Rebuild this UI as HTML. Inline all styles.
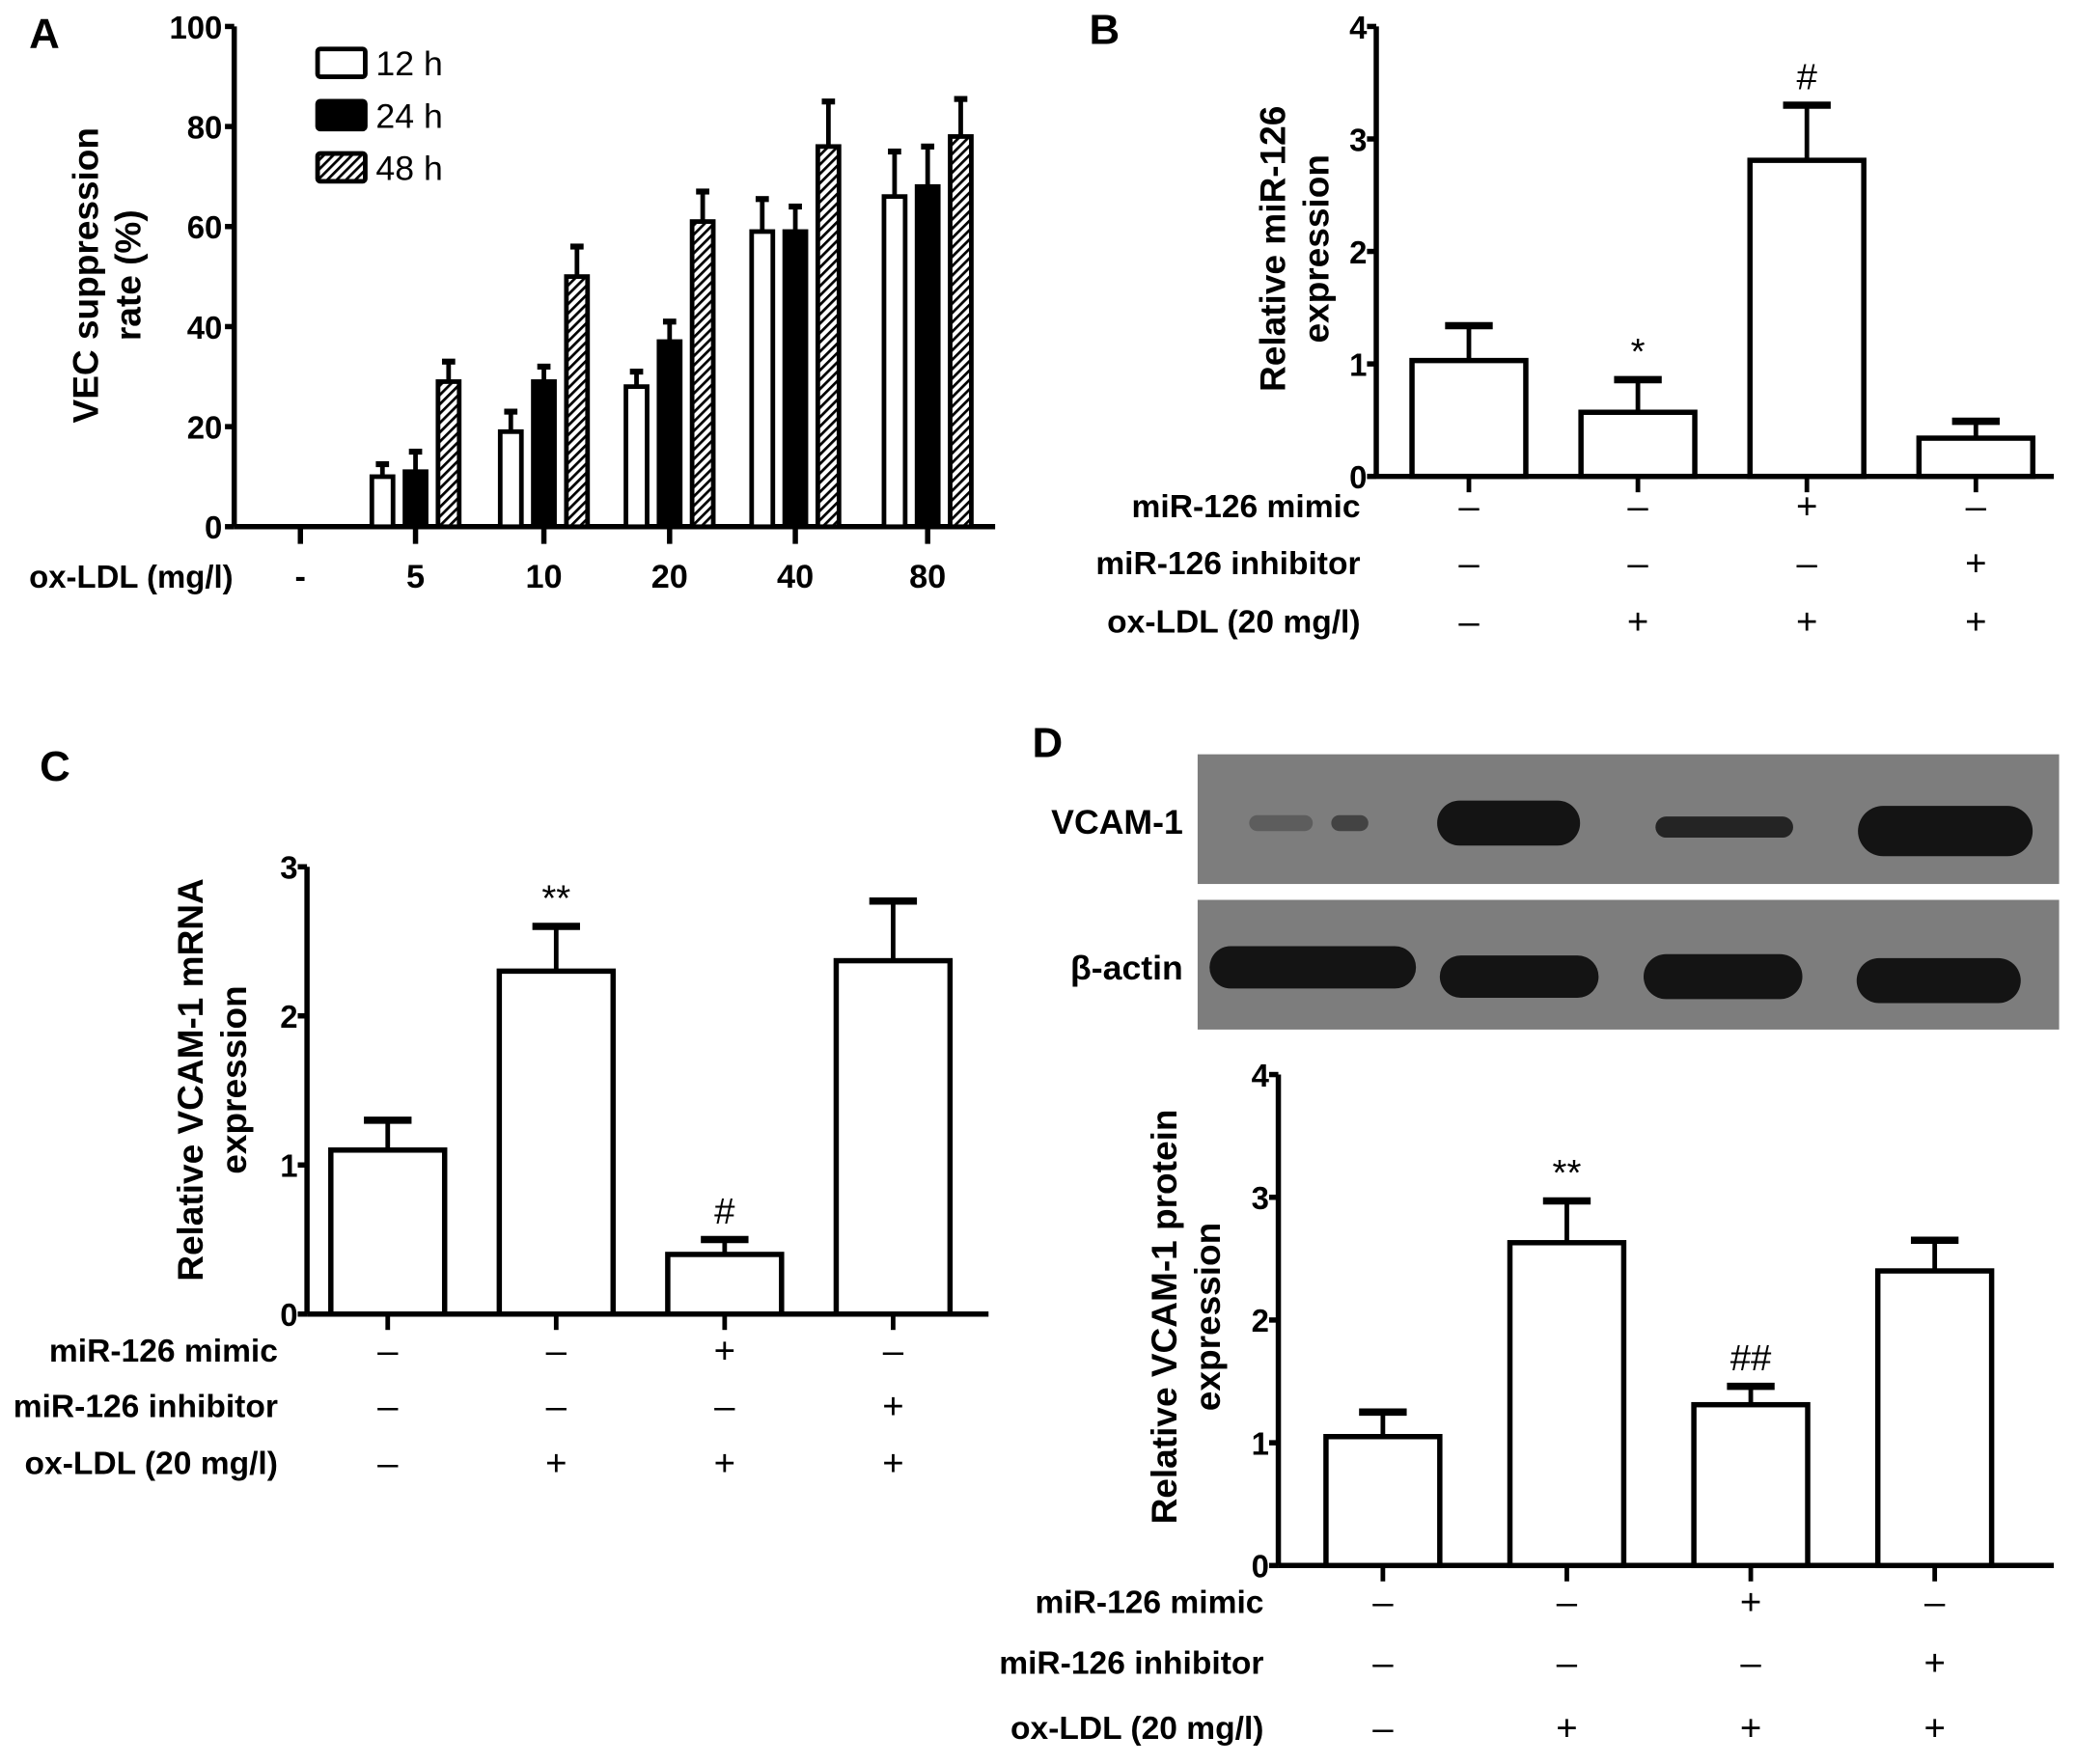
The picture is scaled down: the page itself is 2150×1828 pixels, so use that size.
<!DOCTYPE html>
<html><head><meta charset="utf-8"><style>
html,body{margin:0;padding:0;background:#fff;}
svg{display:block;}
text{font-family:"Liberation Sans",Arial,sans-serif;fill:#000;}
</style></head><body>
<svg id="fig" width="2150" height="1828" viewBox="0 0 1568 1333" preserveAspectRatio="none" xmlns="http://www.w3.org/2000/svg">
<defs>
<pattern id="hatch" patternUnits="userSpaceOnUse" width="5" height="5" patternTransform="rotate(45)">
<rect width="5" height="5" fill="#fff"/><rect width="2" height="5" fill="#000"/>
</pattern>
</defs>
</svg>
<script>
// Panel A data
const aCategories = ["-", "5", "10", "20", "40", "80"];
const aSeries = ["12 h", "24 h", "48 h"];
const a12 = [0, 10, 19, 28, 59, 66];
const a24 = [0, 11, 29, 37, 59, 68];
const a48 = [0, 29, 50, 61, 76, 78];
const a12err = [0, 2.5, 4, 3, 6.5, 9];
const a24err = [0, 4, 3, 4, 5, 8];
const a48err = [0, 4, 6, 6, 9, 7.5];
const aTicks = [0, 20, 40, 60, 80, 100];
// Panel B data
const bValues = [1.03, 0.57, 2.81, 0.34];
const bErr = [0.31, 0.29, 0.49, 0.15];
const bTicks = [0, 1, 2, 3, 4];
const bMarks = ["", "*", "#", ""];
// Panel C data
const cValues = [1.1, 2.3, 0.4, 2.37];
const cErr = [0.2, 0.3, 0.1, 0.4];
const cTicks = [0, 1, 2, 3];
const cMarks = ["", "**", "#", ""];
// Panel D data
const dValues = [1.05, 2.63, 1.31, 2.4];
const dErr = [0.2, 0.34, 0.15, 0.25];
const dTicks = [0, 1, 2, 3, 4];
const dMarks = ["", "**", "##", ""];
// Treatment rows
const mimicSigns = ["–", "–", "+", "–"];
const inhibSigns = ["–", "–", "–", "+"];
const oxSigns = ["–", "+", "+", "+"];

const svg = document.getElementById('fig');
const NS = 'http://www.w3.org/2000/svg';
function mk(tag, attrs, parent){
  const e = document.createElementNS(NS, tag);
  for (const k in attrs) e.setAttribute(k, attrs[k]);
  (parent || svg).appendChild(e);
  return e;
}
function txt(s, x, y, size, anchor, weight, parent){
  const t = mk('text', {x:x, y:y, 'font-size':size, 'text-anchor':anchor||'start', 'font-weight':weight||'bold'}, parent);
  t.textContent = s;
  return t;
}

// ---------- Panel A ----------
(function(){
  const g = mk('g', {});
  
  
  const x0 = 177, x1 = 752, yTop = 20, yBot = 398, vmax = 100;
  const y = v => yBot - (yBot - yTop) * v / vmax;
  const centers = [227, 314, 411, 506, 601, 701];
  const xOf = i => centers[i];
  const l = txt('A', 22, 36, 32, 'start', 'bold', g);
  
  
  const ya = mk('line', {x1:x0, y1:yTop, x2:x0, y2:yBot, stroke:'#000', 'stroke-width':4}, g);
  
  
  const xa = mk('line', {x1:x0, y1:yBot, x2:x1, y2:yBot, stroke:'#000', 'stroke-width':4}, g);
  
  
  aTicks.forEach(v => {
    mk('line', {x1:x0-7, y1:y(v), x2:x0, y2:y(v), stroke:'#000', 'stroke-width':4}, g);
    const t = txt(String(v), x0-9, y(v)+9, 24, 'end', 'bold', g);
    
    
  });
  aCategories.forEach((c, i) => {
    mk('line', {x1:xOf(i), y1:yBot, x2:xOf(i), y2:yBot+13, stroke:'#000', 'stroke-width':4}, g);
    const t = txt(c, xOf(i), 444, 25, 'middle', 'bold', g);
    
    
  });
  const xl = txt('ox-LDL (mg/l)', 22, 444, 24, 'start', 'bold', g);
  
  
  const yt = mk('text', {transform:'translate(74,208) rotate(-90)', 'font-size':27, 'font-weight':'bold', 'text-anchor':'middle'}, g);
  
  
  const ts1 = mk('tspan', {x:0, y:0}, yt); ts1.textContent = 'VEC suppression';
  const ts2 = mk('tspan', {x:0, y:32}, yt); ts2.textContent = 'rate (%)';
  const series = [[a12, a12err, '#fff'], [a24, a24err, '#000'], [a48, a48err, 'url(#hatch)']];
  const bw = 16, step = 25;
  series.forEach((s, si) => {
    s[0].forEach((v, i) => {
      if (v <= 0) return;
      const cx = xOf(i) + (si - 1) * step;
      const top = y(v + s[1][i]);
      mk('line', {x1:cx, y1:y(v), x2:cx, y2:top, stroke:'#000', 'stroke-width':3.5}, g);
      mk('line', {x1:cx-5, y1:top, x2:cx+5, y2:top, stroke:'#000', 'stroke-width':4.5}, g);
      const r = mk('rect', {x:cx-bw/2, y:y(v), width:bw, height:yBot-y(v), fill:s[2], stroke:'#000', 'stroke-width':3.5}, g);
      
      
    });
  });
  const fills = ['#fff', '#000', 'url(#hatch)'];
  aSeries.forEach((s, i) => {
    const ly = 37 + i * 39.5;
    const lg = mk('g', {}, g);
    
    
    mk('rect', {x:240, y:ly, width:36, height:21, fill:fills[i], stroke:'#000', 'stroke-width':3.5, rx:2}, lg);
    txt(s, 284, ly+20, 26, 'start', 'normal', lg);
  });
})();

// ---------- Generic bar panel ----------
function barPanel(o){
  const g = mk('g', {});
  
  
  const vmax = o.ticks[o.ticks.length - 1];
  const y = v => o.yBot - (o.yBot - o.yTop) * v / vmax;
  const xOf = i => o.c0 + i * o.dx;
  const ya = mk('line', {x1:o.x0, y1:o.yTop, x2:o.x0, y2:o.yBot, stroke:'#000', 'stroke-width':4}, g);
  
  
  const xa = mk('line', {x1:o.x0, y1:o.yBot, x2:o.x1, y2:o.yBot, stroke:'#000', 'stroke-width':4}, g);
  
  
  o.ticks.forEach(v => {
    mk('line', {x1:o.x0-7, y1:y(v), x2:o.x0, y2:y(v), stroke:'#000', 'stroke-width':4}, g);
    const t = txt(String(v), o.x0-7, y(v)+9, 24, 'end', 'bold', g);
    
    
  });
  const bw = 86;
  o.values.forEach((v, i) => {
    const cx = xOf(i);
    mk('line', {x1:cx, y1:o.yBot, x2:cx, y2:o.yBot+12, stroke:'#000', 'stroke-width':3.5}, g);
    const top = y(v + o.err[i]);
    mk('line', {x1:cx, y1:y(v), x2:cx, y2:top, stroke:'#000', 'stroke-width':3.5}, g);
    mk('line', {x1:cx-18, y1:top, x2:cx+18, y2:top, stroke:'#000', 'stroke-width':5.5}, g);
    const r = mk('rect', {x:cx-bw/2, y:y(v), width:bw, height:o.yBot-y(v), fill:'#fff', stroke:'#000', 'stroke-width':4}, g);
    
    
    if (o.marks[i]) {
      const m = txt(o.marks[i], cx, top - 12, 28, 'middle', 'normal', g);
      
      
    }
  });
  const rows = [['miR-126 mimic', mimicSigns], ['miR-126 inhibitor', inhibSigns], ['ox-LDL (20 mg/l)', oxSigns]];
  rows.forEach((r, ri) => {
    const ry = o.rows[ri];
    const lt = txt(r[0], o.labelX, ry+9, 24.5, 'end', 'bold', g);
    
    
    r[1].forEach((s, i) => {
      const st = txt(s, xOf(i), ry+10, 28, 'middle', 'normal', g);
      
      
    });
  });
  const yt = mk('text', {transform:'translate(' + o.titleX + ',' + o.titleY + ') rotate(-90)', 'font-size':27, 'font-weight':'bold', 'text-anchor':'middle'}, g);
  
  
  const t1 = mk('tspan', {x:0, y:0}, yt); t1.textContent = o.title[0];
  const t2 = mk('tspan', {x:0, y:33}, yt); t2.textContent = o.title[1];
  const pl = txt(o.letter, o.letterX, o.letterY, 32, 'start', 'bold', g);
  
  
}

barPanel({name:'panel-b', values:bValues, err:bErr, ticks:bTicks, marks:bMarks,
  x0:1040, x1:1552, yTop:20, yBot:360, c0:1110, dx:127.7,
  rows:[382, 425, 469], labelX:1028, title:['Relative miR-126','expression'], titleX:971, titleY:188,
  letter:'B', letterX:823, letterY:33});
barPanel({name:'panel-c', values:cValues, err:cErr, ticks:cTicks, marks:cMarks,
  x0:232, x1:747, yTop:655, yBot:993, c0:293, dx:127.3,
  rows:[1020, 1062, 1105], labelX:210, title:['Relative VCAM-1 mRNA','expression'], titleX:153, titleY:816,
  letter:'C', letterX:30, letterY:590});
barPanel({name:'panel-d', values:dValues, err:dErr, ticks:dTicks, marks:dMarks,
  x0:966, x1:1552, yTop:812, yBot:1183, c0:1045, dx:139,
  rows:[1210, 1256, 1305], labelX:955, title:['Relative VCAM-1 protein','expression'], titleX:889, titleY:995,
  letter:'D', letterX:780, letterY:572});

// ---------- Western blots ----------
(function(){
  const g = mk('g', {});
  
  
  const blots = [
    {name:'vcam-1-blot', label:'VCAM-1', y:570, bands:[[968,622,24,6,0.3],[1020,622,14,6,0.55],[1140,622,54,17,1],[1303,625,52,8,0.85],[1470,628,66,19,1]]},
    {name:'beta-actin-blot', label:'β-actin', y:680, bands:[[992,731,78,16,1],[1148,738,60,16,1],[1302,738,60,17,1],[1465,741,62,17,1]]}
  ];
  blots.forEach(b => {
    const bg = mk('g', {}, g);
    
    
    mk('rect', {x:905, y:b.y, width:651, height:98, fill:'#7d7d7d'}, bg);
    b.bands.forEach(bd => {
      mk('rect', {x:bd[0]-bd[2], y:bd[1]-bd[3], width:bd[2]*2, height:bd[3]*2, rx:bd[3], ry:bd[3], fill:'#141414', opacity:bd[4]}, bg);
    });
    const t = txt(b.label, 894, b.y + 60, 26, 'end', 'bold', bg);
    
    
  });
})();
</script>
</body></html>
